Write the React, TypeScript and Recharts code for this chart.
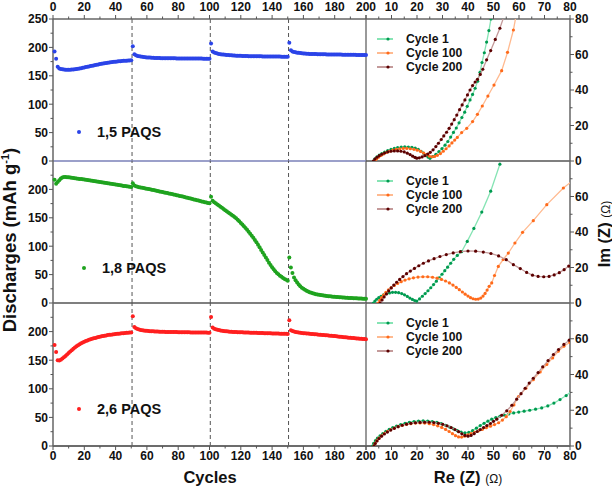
import { Legend, ReferenceLine, Scatter, ScatterChart, XAxis, YAxis } from "recharts";

// discharge capacity per cycle (cycles 1..200)
const cap15 = [
  193, 180, 166, 163, 162, 161.4, 161, 160.7, 160.6, 160.6,
  160.7, 160.9, 161.2, 161.5, 161.9, 162.4, 162.9, 163.5, 164.1, 164.7,
  165.3, 165.9, 166.5, 167.1, 167.7, 168.3, 168.9, 169.5, 170.0, 170.6,
  171.1, 171.6, 172.1, 172.6, 173.0, 173.4, 173.8, 174.2, 174.6, 174.9,
  175.2, 175.5, 175.8, 176.1, 176.3, 176.5, 176.7, 176.9, 177.1, 177.3,
  202, 188, 186, 185, 184.3, 183.8, 183.4, 183.0, 182.7, 182.4,
  182.2, 182.0, 181.8, 181.6, 181.5, 181.4, 181.3, 181.2, 181.1, 181.0,
  181.0, 180.9, 180.9, 180.8, 180.8, 180.7, 180.7, 180.7, 180.6, 180.6,
  180.6, 180.5, 180.5, 180.5, 180.5, 180.4, 180.4, 180.4, 180.4, 180.4,
  180.3, 180.3, 180.3, 180.3, 180.3, 180.2, 180.2, 180.2, 180.2, 180.2,
  207, 193, 191, 190, 189.2, 188.6, 188.1, 187.7, 187.3, 187.0,
  186.7, 186.4, 186.2, 186.0, 185.8, 185.6, 185.5, 185.3, 185.2, 185.1,
  185.0, 184.9, 184.8, 184.7, 184.6, 184.6, 184.5, 184.4, 184.4, 184.3,
  184.3, 184.2, 184.2, 184.1, 184.1, 184.0, 184.0, 184.0, 183.9, 183.9,
  183.9, 183.8, 183.8, 183.8, 183.8, 183.7, 183.7, 183.7, 183.7, 183.6,
  208, 195, 193, 192, 191.3, 190.8, 190.4, 190.0, 189.7, 189.4,
  189.2, 189.0, 188.8, 188.6, 188.5, 188.4, 188.3, 188.2, 188.1, 188.0,
  187.9, 187.9, 187.8, 187.8, 187.7, 187.7, 187.6, 187.6, 187.5, 187.5,
  187.4, 187.4, 187.3, 187.3, 187.2, 187.2, 187.1, 187.1, 187.0, 187.0,
  186.9, 186.9, 186.9, 186.8, 186.8, 186.8, 186.7, 186.7, 186.7, 186.6,
];

const cap18 = [
  217, 210, 213, 216, 219, 221, 222, 221.8, 221.6, 221.3,
  220.9, 220.5, 220.1, 219.7, 219.3, 218.9, 218.5, 218.1, 217.7, 217.3,
  216.9, 216.5, 216.1, 215.6, 215.2, 214.8, 214.3, 213.9, 213.4, 213.0,
  212.5, 212.1, 211.6, 211.2, 210.7, 210.3, 209.8, 209.4, 208.9, 208.5,
  208.0, 207.6, 207.1, 206.7, 206.2, 205.8, 205.4, 205.0, 204.7, 204.3,
  211, 207, 205.5, 204.6, 203.9, 203.3, 202.8, 202.3, 201.8, 201.3,
  200.7, 200.1, 199.5, 198.9, 198.3, 197.7, 197.1, 196.5, 195.9, 195.3,
  194.7, 194.1, 193.5, 192.9, 192.3, 191.7, 191.1, 190.5, 189.9, 189.3,
  188.6, 188.0, 187.3, 186.6, 185.9, 185.2, 184.5, 183.8, 183.1, 182.4,
  181.7, 181.0, 180.3, 179.6, 178.9, 178.2, 177.5, 176.8, 176.1, 175.4,
  187, 180, 177.5, 175.5, 173.5, 171.5, 169.5, 167.5, 165.5, 163.5,
  161.5, 159.5, 157.5, 155.5, 153.5, 151.3, 149, 146.5, 143.8, 141,
  138, 135, 132, 128.8, 125.5, 122, 118.5, 115, 111, 107,
  102.5, 98, 93.5, 89, 84.5, 80, 75.5, 71, 67, 63,
  59.5, 56, 53, 50.5, 48, 46, 44, 42.3, 40.8, 39.3,
  80, 62.6, 53, 45, 40, 36, 32.5, 29.5, 27, 25,
  23.2, 21.7, 20.3, 19.1, 18, 17.1, 16.3, 15.6, 15, 14.5,
  14, 13.5, 13.1, 12.7, 12.4, 12.1, 11.8, 11.5, 11.2, 11,
  10.7, 10.5, 10.2, 10, 9.8, 9.6, 9.4, 9.2, 9, 8.8,
  8.6, 8.5, 8.3, 8.2, 8, 7.9, 7.8, 7.6, 7.5, 7.4,
];

const cap26 = [
  176.7, 164.4, 150, 149.5, 151, 153, 155, 157.5, 160, 162.5,
  165, 167.5, 170, 172.2, 174.3, 176.2, 178, 179.6, 181, 182.3,
  183.5, 184.6, 185.6, 186.5, 187.4, 188.2, 189, 189.8, 190.5, 191.2,
  191.8, 192.4, 192.9, 193.4, 193.9, 194.3, 194.7, 195.1, 195.5, 195.8,
  196.1, 196.4, 196.7, 197, 197.3, 197.6, 197.9, 198.1, 198.3, 198.6,
  226.8, 208, 206, 204.6, 203.5, 202.8, 202.3, 201.9, 201.6, 201.3,
  201, 200.8, 200.6, 200.4, 200.3, 200.1, 200, 199.9, 199.8, 199.7,
  199.6, 199.5, 199.4, 199.4, 199.3, 199.2, 199.2, 199.1, 199.1, 199,
  199, 198.9, 198.9, 198.8, 198.8, 198.7, 198.7, 198.6, 198.6, 198.6,
  198.5, 198.5, 198.4, 198.4, 198.4, 198.3, 198.3, 198.3, 198.2, 198.2,
  225.6, 207, 205, 204, 203.3, 202.6, 202, 201.5, 201.1, 200.7,
  200.4, 200.1, 199.9, 199.7, 199.5, 199.3, 199.2, 199, 198.9, 198.8,
  198.7, 198.6, 198.5, 198.4, 198.3, 198.2, 198.1, 198, 197.9, 197.8,
  197.7, 197.6, 197.5, 197.4, 197.3, 197.2, 197.1, 197, 196.9, 196.8,
  196.7, 196.6, 196.5, 196.5, 196.4, 196.3, 196.2, 196.2, 196.1, 196,
  219.8, 202.3, 201, 200, 199.2, 198.7, 198.3, 197.9, 197.6, 197.3,
  197, 196.7, 196.5, 196.2, 196, 195.7, 195.5, 195.2, 195, 194.7,
  194.5, 194.2, 194, 193.7, 193.5, 193.2, 192.9, 192.6, 192.4, 192.1,
  191.8, 191.5, 191.2, 190.9, 190.6, 190.3, 190, 189.7, 189.4, 189.1,
  188.8, 188.6, 188.3, 188.1, 187.8, 187.6, 187.4, 187.1, 186.9, 186.6,
];

// Nyquist points [Re, Im] per sample and cycle
const eis15c1 = [
  [2.9, 0], [3.5, 1.2], [4.3, 2.3], [5.2, 3.3], [6.2, 4.2], [7.3, 5], [8.5, 5.8], [9.8, 6.5], [11.1, 7.1], [12.4, 7.5],
  [13.8, 7.8], [15.2, 8], [16.6, 7.9], [18, 7.7], [19.3, 7.2], [20.5, 6.5], [21.6, 5.5], [22.6, 4.4], [23.5, 3.2], [24.3, 2.2],
  [25.1, 1.5], [26.2, 2.5], [27.4, 3.8], [28.6, 5.3], [29.8, 7], [31, 8.9], [32.1, 11], [33.2, 13.5], [34.3, 16.1], [35.4, 18.6],
  [36.5, 21.5], [37.6, 24.5], [38.7, 27.5], [39.7, 30.8], [40.8, 34.4], [41.8, 37.5], [42.8, 41], [43.8, 45], [44.7, 50], [45.5, 55.5],
  [46.4, 61], [47.3, 67], [48.2, 73.5], [49, 80], [49.8, 86],
];
const eis15c100 = [
  [3.6, 0], [4.2, 1.2], [5, 2.2], [5.9, 3.1], [6.9, 4], [8, 4.8], [9.2, 5.5], [10.5, 6.1], [11.8, 6.6], [13.2, 6.9],
  [14.6, 7.1], [16, 7.1], [17.4, 6.9], [18.8, 6.6], [20.1, 6.1], [21.4, 5.4], [22.6, 4.5], [23.7, 3.6], [24.8, 2.8], [25.8, 2.4],
  [26.9, 2.6], [28, 3.2], [29.2, 4.2], [30.3, 5.5], [31.4, 6.9], [32.6, 8.5], [33.7, 10.2], [34.8, 11.8], [35.8, 13.3], [37.5, 16],
  [39.5, 18.4], [41.8, 22.2], [43.7, 26.3], [45.6, 31], [47.8, 36.6], [50.2, 42.8], [53.2, 50.9], [55.5, 61.2], [57.8, 73.8], [59, 83],
];
const eis15c200 = [
  [2.9, 0], [3.5, 1.1], [4.3, 2.1], [5.2, 3], [6.2, 3.8], [7.3, 4.5], [8.5, 5.1], [9.8, 5.5], [11.1, 5.7], [12.4, 5.7],
  [13.7, 5.5], [15, 5.1], [16.2, 4.4], [17.3, 3.6], [18.3, 2.7], [19.2, 2], [19.9, 1.6], [20.9, 1.8], [22, 2.3], [23.1, 3],
  [24.2, 3.9], [25.2, 4.9], [26.3, 6.3], [27.4, 8.1], [28.4, 10], [29.5, 12.1], [30.5, 14.1], [31.6, 16.2], [32.6, 18.4], [33.6, 20.8],
  [34.6, 23.3], [35.6, 25.9], [36.7, 28.9], [37.7, 31.6], [38.8, 34.4], [39.8, 37.2], [40.8, 40], [41.8, 42.5], [42.8, 44.5], [43.7, 46],
  [44.8, 48.8], [45.8, 51.7], [47.3, 57], [48.9, 62.2], [50.7, 68.5], [52.5, 74.8], [54, 81],
];

const eis18c1 = [
  [2.9, 0], [3.5, 1.1], [4.2, 2.1], [5, 3], [5.9, 3.8], [6.9, 4.6], [8, 5.2], [9.2, 5.7], [10.4, 6], [11.6, 6],
  [12.8, 5.8], [14, 5.3], [15.1, 4.6], [16.2, 3.7], [17.2, 2.8], [18.2, 2], [19.1, 1.4], [19.9, 1.1], [21, 2.3], [22.1, 3.8],
  [23.2, 5.3], [24.3, 6.9], [25.4, 8.6], [26.5, 10.4], [27.6, 12.3], [28.7, 14.2], [29.8, 16.2], [30.9, 18.2], [32, 20.2], [33.2, 22.4],
  [34.4, 24.6], [35.8, 26.8], [37.5, 28.9], [39.7, 34.7], [42.3, 42], [45.4, 51.2], [48.9, 63], [52.5, 78.2],
];
const eis18c100 = [
  [4.8, 0], [5.4, 1.5], [6.1, 3], [6.9, 4.5], [7.8, 6], [8.8, 7.4], [9.9, 8.7], [11.1, 9.9], [12.4, 11], [13.8, 12],
  [15.3, 12.9], [16.9, 13.6], [18.6, 14.2], [20.4, 14.6], [22.3, 14.8], [24.2, 14.8], [26.1, 14.5], [27.9, 14], [29.6, 13.3], [31.2, 12.4],
  [32.7, 11.3], [34.1, 10.1], [35.4, 8.8], [36.6, 7.5], [37.8, 6.2], [38.9, 5], [40, 3.9], [41, 3], [42, 2.4], [43, 2.1],
  [44, 2.2], [45, 2.8], [45.9, 3.9], [46.7, 5.4], [47.5, 7.3], [48.3, 9.4], [49.3, 11.3], [50.4, 15.5], [51.9, 20.6], [53.8, 24.5],
  [55.8, 28.1], [58.4, 33.8], [61.4, 39.8], [65.6, 46.4], [70.9, 55.4], [77.4, 64.8], [82, 70],
];
const eis18c200 = [
  [5.5, 0], [6.3, 1.7], [7.1, 3.4], [8, 5.1], [8.9, 6.8], [9.9, 8.5], [10.9, 10.1], [12, 11.7], [13.2, 13.3], [14.5, 14.9],
  [15.9, 16.5], [17.4, 18], [19, 19.5], [20.7, 21], [22.5, 22.4], [24.5, 23.7], [26.7, 25], [29, 26.2], [31.5, 27.3], [34.2, 28.2],
  [37, 28.9], [40, 29.3], [43, 29.2], [46, 28.7], [49, 27.9], [52, 26.5], [55, 24.4], [57.8, 21.6], [60.5, 19.4], [63, 17.2],
  [65.3, 15.7], [67.5, 15], [69.7, 14.8], [71.8, 15], [73.8, 15.8], [75.8, 17.1], [77.7, 18.8], [79.5, 20.8], [81.2, 23],
];

const eis26c1 = [
  [2.5, 0], [3, 1.5], [3.7, 3], [4.5, 4.4], [5.5, 5.7], [6.6, 7], [7.8, 8.2], [9.1, 9.3], [10.5, 10.3], [12, 11.2],
  [13.6, 12], [15.3, 12.7], [17, 13.3], [18.8, 13.7], [20.6, 14], [22.4, 14.1], [24.2, 14], [26, 13.7], [27.8, 13.2], [29.5, 12.5],
  [31.2, 11.6], [32.8, 10.6], [34.3, 9.6], [35.8, 8.6], [37.3, 7.8], [38.8, 7.4], [40.3, 7.6], [41.8, 8.6], [43.3, 10], [44.8, 11.4],
  [46.3, 12.7], [47.8, 13.9], [49.3, 15], [50.9, 15.9], [52.5, 16.6], [54.2, 17.3], [56, 17.9], [57.9, 18.5], [59.9, 19], [62, 19.5],
  [64.2, 20], [66.5, 20.6], [68.9, 21.3], [71.3, 22.4], [73.7, 24], [76.1, 26], [78.5, 28.2], [80.5, 30.5],
];
const eis26c100 = [
  [3.1, 0], [3.6, 1.5], [4.3, 3], [5.1, 4.4], [6.1, 5.7], [7.2, 7], [8.4, 8.1], [9.7, 9.1], [11.1, 10], [12.6, 10.8],
  [14.2, 11.5], [15.9, 12.1], [17.6, 12.5], [19.4, 12.8], [21.2, 12.9], [23, 12.8], [24.8, 12.5], [26.5, 12], [28.1, 11.3], [29.7, 10.4],
  [31.2, 9.3], [32.6, 8.1], [33.9, 6.9], [35.1, 5.8], [36.3, 5.1], [37.5, 5], [38.7, 5.5], [39.9, 6.2], [41.2, 6.9], [42.6, 7.6],
  [44.1, 8.5], [45.6, 9.3], [47.2, 10.2], [48.8, 11.1], [50.4, 12], [52, 13], [53.5, 14.5], [55, 16.4], [56.5, 19.3], [58, 23],
  [59.8, 27.7], [62.7, 32.3], [65.6, 37.1], [68.3, 41.4], [70.9, 45.6], [73.2, 49.3], [75.4, 53], [77.6, 55.8], [80, 58],
];
const eis26c200 = [
  [3.1, 0], [3.6, 1.4], [4.3, 2.8], [5.1, 4.2], [6.1, 5.5], [7.2, 6.7], [8.4, 7.8], [9.7, 8.9], [11.1, 9.9], [12.6, 10.8],
  [14.2, 11.6], [15.9, 12.2], [17.6, 12.7], [19.4, 13], [21.2, 13.2], [23, 13.3], [24.8, 13.3], [26.6, 13.1], [28.4, 12.7], [30.1, 12.1],
  [31.8, 11.3], [33.4, 10.3], [34.9, 9.2], [36.3, 8], [37.6, 6.8], [38.8, 5.9], [40, 5.5], [41.2, 5.9], [42.4, 6.9], [43.6, 8.1],
  [44.8, 9.2], [46.1, 10.3], [47.4, 11.4], [48.8, 12.6], [50, 13.8], [51.3, 15], [53.2, 17.2], [55.2, 19.7], [57.2, 22.8], [59.1, 26.2],
  [60.8, 29.3], [62.4, 32.3], [64, 35.2], [65.6, 37.9], [67.5, 41.1], [69.3, 44.3], [71.4, 47.8], [73.5, 51.2], [75.5, 54], [77.6, 56.8],
  [79.7, 59.2], [81.5, 61],
];

const samples = ["1,5 PAQS", "1,8 PAQS", "2,6 PAQS"];
const cycleLabels = ["Cycle 1", "Cycle 100", "Cycle 200"];
const cycleTicks = [0, 10, 20, 30, 40, 50, 60, 70, 80, 90, 100, 110, 120, 130, 140, 150, 160, 170, 180, 190, 200];
const capTicksTop = [0, 25, 50, 75, 100, 125, 150, 175, 200, 225, 250];
const capTicks = [0, 25, 50, 75, 100, 125, 150, 175, 200, 225];
const reTicks = [0, 5, 10, 15, 20, 25, 30, 35, 40, 45, 50, 55, 60, 65, 70, 75, 80];
const imTicksTop = [0, 10, 20, 30, 40, 50, 60, 70, 80];
const imTicks = [0, 10, 20, 30, 40, 50, 60, 70];

const FONT = '"Liberation Sans", Arial, sans-serif';
const W = 612;
const H = 488;
const XL = 53, XM = 366, XR = 570;
const ROWS = [19, 161, 303, 446];

const capColors = ["#2b44e8", "#1fa31f", "#ff1f1f"];
const cycDot = ["#009a50", "#ff6a1a", "#5c0000"];
const cycLine = ["#86e4b4", "#ffba90", "#c49a9a"];

const toCycles = (vals: number[]) => vals.map((v, i) => ({ x: i + 1, y: v }));
const toPts = (pts: number[][]) => pts.map(([re, im]) => ({ x: re, y: im }));

const makeTick = (side: string, step: number, skip: number[] = []) => (props: any) => {
  const { x, y, payload } = props;
  const v = payload.value;
  const major = v % step === 0;
  const len = major ? 4 : 2.5;
  const show = major && !skip.includes(v);
  const tstyle = { fontFamily: FONT, fontWeight: 700, fontSize: 12, fill: "#111" };
  let line = null;
  let label = null;
  if (side === "top") {
    line = <line x1={x} y1={y} x2={x} y2={y - len} />;
    if (show) label = <text x={x} y={y - 8.5} textAnchor="middle" style={tstyle}>{v}</text>;
  } else if (side === "bottom") {
    line = <line x1={x} y1={y} x2={x} y2={y + len} />;
    if (show) label = <text x={x} y={y + 13.5} textAnchor="middle" style={tstyle}>{v}</text>;
  } else if (side === "left") {
    line = <line x1={x} y1={y} x2={x - len} y2={y} />;
    if (show) label = <text x={x - 5} y={y + 4.3} textAnchor="end" style={tstyle}>{v}</text>;
  } else {
    line = <line x1={x} y1={y} x2={x + len} y2={y} />;
    if (show) label = <text x={x + 5} y={y + 4.3} textAnchor="start" style={tstyle}>{v}</text>;
  }
  return (
    <g stroke="#555" strokeWidth={1}>
      {line}
      <g stroke="none">{label}</g>
    </g>
  );
};

const dot = (r: number, fill: string) => (p: any) => <circle cx={p.cx} cy={p.cy} r={r} fill={fill} />;

const axisLine = { stroke: "#666", strokeWidth: 1.5 };

const SampleLabel = ({ text, color }: { text: string; color: string }) => (
  <div style={{ fontFamily: FONT, fontWeight: 700, fontSize: 14.5, lineHeight: "16px", color: "#111", whiteSpace: "nowrap", display: "flex" }}>
    <svg width={25} height={16}><circle cx={7} cy={8} r={2} fill={color} /></svg>
    <span>{text}</span>
  </div>
);

const CycleLegend = () => (
  <div style={{ fontFamily: FONT, fontWeight: 700, fontSize: 12.2, lineHeight: "14px", color: "#111", whiteSpace: "nowrap" }}>
    {cycleLabels.map((c, i) => (
      <div key={c} style={{ display: "flex" }}>
        <svg width={31} height={14}>
          <line x1={2} y1={7} x2={18} y2={7} stroke={cycLine[i]} strokeWidth={2} />
          <circle cx={13} cy={7} r={1.6} fill={cycDot[i]} />
        </svg>
        <span>{c}</span>
      </div>
    ))}
  </div>
);

const CapPanel = ({ idx, values, labelPos }: { idx: number; values: number[]; labelPos: [number, number] }) => {
  const top = ROWS[idx];
  const bottom = ROWS[idx + 1];
  const hasTop = idx === 0;
  const hasBottom = idx === 2;
  return (
    <div style={{ position: "absolute", left: 0, top: 0 }}>
      <ScatterChart
        width={W}
        height={H}
        margin={{ top: top - (hasTop ? 18 : 0), bottom: H - bottom - (hasBottom ? 30 : 0), left: XL - 45, right: W - XM }}
      >
        <XAxis
          type="number"
          dataKey="x"
          domain={[0, 200]}
          ticks={cycleTicks}
          interval={0}
          orientation={hasTop ? "top" : "bottom"}
          height={hasTop ? 18 : 30}
          hide={!hasTop && !hasBottom}
          axisLine={axisLine}
          tickLine={false}
          tickSize={0}
          tickMargin={0}
          tick={makeTick(hasTop ? "top" : "bottom", 20)}
        />
        <YAxis
          type="number"
          dataKey="y"
          domain={[0, 250]}
          ticks={hasTop ? capTicksTop : capTicks}
          interval={0}
          width={45}
          axisLine={axisLine}
          tickLine={false}
          tickSize={0}
          tickMargin={0}
          tick={makeTick("left", 50)}
        />
        {[50.5, 100.5, 150.5].map((c) => (
          <ReferenceLine key={c} x={c} stroke="#555" strokeDasharray="4 3" strokeWidth={1} />
        ))}
        <ReferenceLine x={200} stroke="#777" strokeWidth={1.5} />
        <ReferenceLine y={0} stroke={idx === 0 ? "#7a80b8" : "#555"} strokeWidth={1.5} />
        <Scatter data={toCycles(values)} fill={capColors[idx]} shape={dot(2, capColors[idx])} isAnimationActive={false} />
        <Legend
          layout="horizontal"
          verticalAlign="middle"
          align="center"
          wrapperStyle={{ left: labelPos[0], top: labelPos[1], width: "auto", height: "auto" }}
          content={() => <SampleLabel text={samples[idx]} color={capColors[idx]} />}
        />
      </ScatterChart>
    </div>
  );
};

const EisPanel = ({ idx, series, legendTop }: { idx: number; series: number[][][]; legendTop: number }) => {
  const top = ROWS[idx];
  const bottom = ROWS[idx + 1];
  const hasTop = idx === 0;
  const hasBottom = idx === 2;
  return (
    <div style={{ position: "absolute", left: 0, top: 0 }}>
      <ScatterChart
        width={W}
        height={H}
        margin={{ top: top - (hasTop ? 18 : 0), bottom: H - bottom - (hasBottom ? 30 : 0), left: XM, right: W - XR - 35 }}
      >
        <XAxis
          type="number"
          dataKey="x"
          domain={[0, 80]}
          allowDataOverflow
          ticks={reTicks}
          interval={0}
          orientation={hasTop ? "top" : "bottom"}
          height={hasTop ? 18 : 30}
          hide={!hasTop && !hasBottom}
          axisLine={axisLine}
          tickLine={false}
          tickSize={0}
          tickMargin={0}
          tick={makeTick(hasTop ? "top" : "bottom", 10, [0])}
        />
        <YAxis
          type="number"
          dataKey="y"
          domain={[0, 80]}
          allowDataOverflow
          orientation="right"
          ticks={hasTop ? imTicksTop : imTicks}
          interval={0}
          width={35}
          axisLine={axisLine}
          tickLine={false}
          tickSize={0}
          tickMargin={0}
          tick={makeTick("right", 20)}
        />
        <ReferenceLine y={0} stroke="#555" strokeWidth={1.5} />
        {series.map((s, i) => (
          <Scatter
            key={cycleLabels[i]}
            data={toPts(s)}
            line={{ stroke: cycLine[i], strokeWidth: 1.3 }}
            lineType="joint"
            fill={cycDot[i]}
            shape={dot(1.6, cycDot[i])}
            isAnimationActive={false}
          />
        ))}
        <Legend
          layout="horizontal"
          verticalAlign="middle"
          align="center"
          wrapperStyle={{ left: 375, top: legendTop, width: "auto", height: "auto" }}
          content={() => <CycleLegend />}
        />
      </ScatterChart>
    </div>
  );
};

export default function App() {
  const title = { fontFamily: FONT, fontWeight: 700, fill: "#111" };
  return (
    <div style={{ position: "absolute", left: 0, top: 0, width: W, height: H, background: "#fff", overflow: "hidden" }}>
      <CapPanel idx={0} values={cap15} labelPos={[72, 124]} />
      <CapPanel idx={1} values={cap18} labelPos={[77, 260]} />
      <CapPanel idx={2} values={cap26} labelPos={[72, 401]} />
      <EisPanel idx={0} series={[eis15c1, eis15c100, eis15c200]} legendTop={32} />
      <EisPanel idx={1} series={[eis18c1, eis18c100, eis18c200]} legendTop={174} />
      <EisPanel idx={2} series={[eis26c1, eis26c100, eis26c200]} legendTop={316} />
      <svg width={W} height={H} style={{ position: "absolute", left: 0, top: 0, pointerEvents: "none" }}>
        <text transform="translate(16,240) rotate(-90)" textAnchor="middle" fontSize={18.5} style={title}>
          Discharges (mAh g<tspan dy={-7} fontSize={11}>-1</tspan><tspan dy={7}>)</tspan>
        </text>
        <text x={210} y={483} textAnchor="middle" fontSize={16.5} style={title}>Cycles</text>
        <text x={468} y={483} textAnchor="middle" fontSize={16.5} style={title}>
          Re (Z) <tspan fontSize={12} fontWeight={400}>(Ω)</tspan>
        </text>
        <text transform="translate(610,234) rotate(-90)" textAnchor="middle" fontSize={16.5} style={title}>
          Im (Z) <tspan fontSize={12} fontWeight={400}>(Ω)</tspan>
        </text>
      </svg>
    </div>
  );
}
